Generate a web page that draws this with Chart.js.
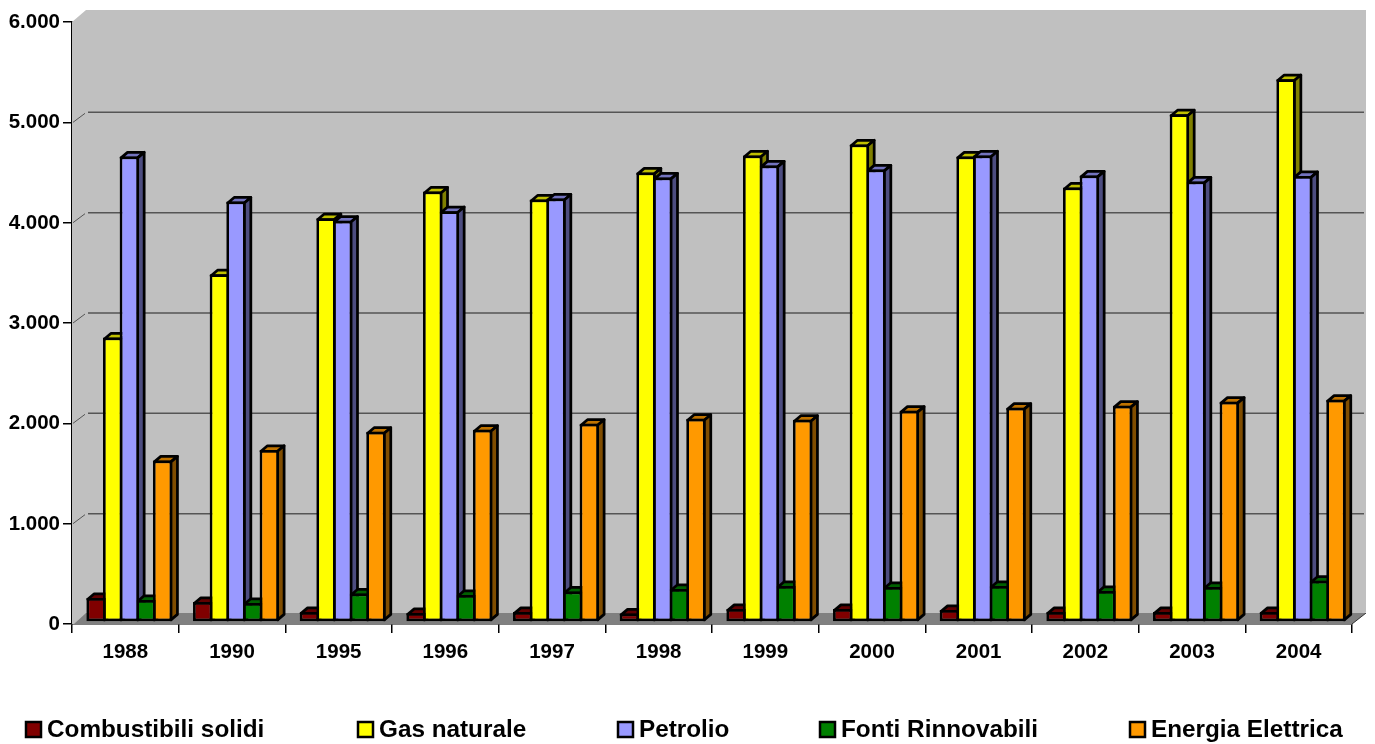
<!DOCTYPE html>
<html><head><meta charset="utf-8">
<style>html,body{margin:0;padding:0;background:#fff;overflow:hidden}canvas{display:block}</style>
<script src="https://cdn.jsdelivr.net/npm/chart.js@4"></script>
</head><body><canvas id="c" width="1375" height="744"></canvas>
<script>
const categories=['1988','1990','1995','1996','1997','1998','1999','2000','2001','2002','2003','2004'];
const combustibiliSolidi=[240,200,100,90,100,85,130,130,120,100,100,100];
const gasNaturale=[2835,3465,4025,4290,4210,4480,4650,4760,4640,4330,5060,5410];
const petrolio=[4640,4190,4000,4095,4220,4430,4550,4510,4650,4450,4390,4445];
const fontiRinnovabili=[220,190,283,270,303,330,360,350,360,310,350,410];
const energiaElettrica=[1610,1715,1895,1915,1975,2025,2015,2105,2135,2155,2195,2215];
const yTickLabels=['0','1.000','2.000','3.000','4.000','5.000','6.000'];
const seriesStyles=[
 {label:'Combustibili solidi',data:combustibiliSolidi,front:'#800000',top:'#600000',side:'#400000',lx:25},
 {label:'Gas naturale',data:gasNaturale,front:'#ffff00',top:'#c0c000',side:'#808000',lx:357},
 {label:'Petrolio',data:petrolio,front:'#9999ff',top:'#7373bf',side:'#4d4d80',lx:617},
 {label:'Fonti Rinnovabili',data:fontiRinnovabili,front:'#008000',top:'#006000',side:'#004000',lx:819},
 {label:'Energia Elettrica',data:energiaElettrica,front:'#ff9900',top:'#bf7300',side:'#804d00',lx:1129}
];
const FAMILY='"Liberation Sans", Arial, sans-serif';
const LW=2.75;
function poly(ctx,pts,fill,stroke,lw){ctx.beginPath();pts.forEach((p,i)=>i?ctx.lineTo(p[0],p[1]):ctx.moveTo(p[0],p[1]));ctx.closePath();
 if(fill){ctx.fillStyle=fill;ctx.fill();} if(stroke){ctx.strokeStyle=stroke;ctx.lineWidth=lw;ctx.lineJoin='round';ctx.stroke();}}
const walls={id:'walls',beforeDatasetsDraw(chart){
 const {ctx,chartArea:a,scales:{y}}=chart;const dx=14,dy=12;
 ctx.save();
 poly(ctx,[[a.left,a.top],[a.left+dx,a.top-dy],[a.right+dx,a.top-dy],[a.right+dx,a.bottom-dy],[a.right,a.bottom],[a.left,a.bottom]],'#c0c0c0');
 poly(ctx,[[a.left+2,a.bottom],[a.left+dx,a.bottom-11],[a.right+dx,a.bottom-11],[a.right,a.bottom]],'#808080');
 y.ticks.forEach(t=>{if(t.value===0||t.value===6000)return;const p=y.getPixelForValue(t.value);
  ctx.strokeStyle='#555';ctx.lineWidth=1.5;ctx.beginPath();ctx.moveTo(a.left+dx+2,p-10);ctx.lineTo(a.right+dx-2,p-10);ctx.stroke();
  ctx.lineWidth=1;ctx.beginPath();ctx.moveTo(a.left+1,p);ctx.lineTo(a.left+dx-1,p-9);ctx.stroke();});
 ctx.strokeStyle='#333';ctx.lineWidth=1;ctx.beginPath();ctx.moveTo(a.right,a.bottom);ctx.lineTo(a.right+dx,a.bottom-11);ctx.stroke();
 ctx.restore();
 // bars stand inside the depth of the floor
 ctx.save();ctx.translate(4,-2);
 const bx=6.5,by=5.5;
 categories.forEach((_,i)=>{seriesStyles.forEach((s,d)=>{const b=chart.getDatasetMeta(d).data[i];
  const h=LW/2,l=b.x-b.width/2+h,r=b.x+b.width/2-h,t=b.y+h,m=b.base-h;
  poly(ctx,[[l,t],[l+bx,t-by],[r+bx,t-by],[r,t]],s.top,'#000',LW);
  poly(ctx,[[r,t],[r+bx,t-by],[r+bx,m-by],[r,m]],s.side,'#000',LW);
 });});
},afterDatasetsDraw(chart){chart.ctx.restore();
 const ctx=chart.ctx;ctx.save();ctx.font='bold 24.3px '+FAMILY;ctx.textBaseline='middle';ctx.textAlign='left';
 seriesStyles.forEach(s=>{ctx.fillStyle=s.front;ctx.strokeStyle='#000';ctx.lineWidth=2.5;
  ctx.beginPath();ctx.rect(s.lx+1,722,15,15);ctx.fill();ctx.stroke();
  ctx.fillStyle='#000';ctx.fillText(s.label,s.lx+22,730);});
 ctx.restore();}};
new Chart(document.getElementById('c'),{type:'bar',
 data:{labels:categories,datasets:seriesStyles.map(s=>({label:s.label,data:s.data,backgroundColor:s.front,borderColor:'#000',borderWidth:LW,borderSkipped:false,clip:false}))},
 plugins:[walls],
 options:{responsive:false,animation:false,devicePixelRatio:1,
  categoryPercentage:0.78,barPercentage:1.165,
  layout:{padding:{top:22,right:23,left:0,bottom:0}},
  plugins:{legend:{display:false},tooltip:{enabled:false}},
  scales:{
   x:{afterFit:s=>{s.height=120;},grid:{drawOnChartArea:false,tickLength:9,color:'#000',lineWidth:1.5},border:{color:'#000',width:1.5},
      ticks:{color:'#000',font:{family:FAMILY,size:20.5,weight:'bold'},padding:7,maxRotation:0}},
   y:{min:0,max:6000,afterFit:s=>{s.width=72;},afterBuildTicks:s=>{s.ticks=yTickLabels.map((_,i)=>({value:i*1000}));},
      grid:{drawOnChartArea:false,tickLength:9,color:'#000',lineWidth:1.5},border:{color:'#000',width:1.5},
      ticks:{color:'#000',font:{family:FAMILY,size:20.5,weight:'bold'},padding:3,labelOffset:0.5,callback:(v,i)=>yTickLabels[i]}}
  }}});
</script></body></html>
